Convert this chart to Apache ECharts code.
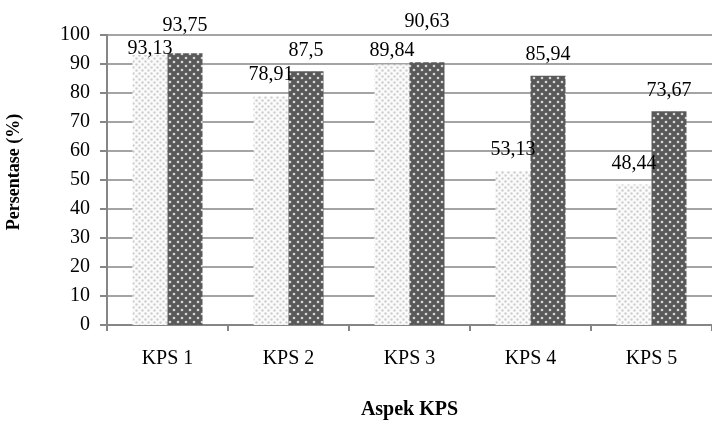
<!DOCTYPE html>
<html>
<head>
<meta charset="utf-8">
<script src="https://cdn.jsdelivr.net/npm/echarts@6/dist/echarts.min.js"></script>
<style>
html,body{margin:0;padding:0;background:#fff;}
#c{width:712px;height:425px;}
</style>
</head>
<body>
<div id="c"></div>
<script>
const categories = ['KPS 1', 'KPS 2', 'KPS 3', 'KPS 4', 'KPS 5'];
const seriesLight = [93.13, 78.91, 89.84, 53.13, 48.44];
const seriesDark = [93.75, 87.5, 90.63, 85.94, 73.67];
const yTicks = [0, 10, 20, 30, 40, 50, 60, 70, 80, 90, 100];

function makePattern(bg, dot, cell, r) {
  const cv = document.createElement('canvas');
  cv.width = cell; cv.height = cell;
  const ctx = cv.getContext('2d');
  ctx.fillStyle = bg; ctx.fillRect(0, 0, cell, cell);
  ctx.fillStyle = dot;
  const pts = [[cell * 0.25, cell * 0.25], [cell * 0.75, cell * 0.75]];
  pts.forEach(p => { ctx.beginPath(); ctx.arc(p[0], p[1], r, 0, Math.PI * 2); ctx.fill(); });
  return { image: cv, repeat: 'repeat' };
}

const lightPattern = makePattern('#fbfbfb', '#cfcfcf', 6, 1.2);
const darkPattern = makePattern('#595959', '#d6d6d6', 8, 1.3);

const font = 'Liberation Serif';
const fmt = v => String(v).replace('.', ',');

// label nudges for collisions (as in the original layout)
const lightNudge = { 0: 15, 2: 7 };
const darkNudge = { 0: -6, 2: -19 };

function buildData(vals, nudge) {
  return vals.map((v, i) => {
    const item = { value: v };
    if (nudge[i] !== undefined) item.label = { offset: [0, nudge[i]] };
    return item;
  });
}

const labelStyle = {
  show: true, position: 'top', distance: 11,
  fontFamily: font, fontSize: 20, color: '#000',
  formatter: p => fmt(p.value)
};

const chart = echarts.init(document.getElementById('c'), null, { renderer: 'canvas' });
chart.setOption({
  animation: false,
  backgroundColor: '#fff',
  grid: { left: 107, top: 35, width: 612.5, height: 300, containLabel: false },
  xAxis: {
    type: 'category',
    data: categories,
    axisLine: { show: true, lineStyle: { color: '#868686', width: 2 } },
    axisTick: { show: true, length: 6, alignWithLabel: false, lineStyle: { color: '#868686', width: 2 } },
    axisLabel: { fontFamily: font, fontSize: 20, color: '#000', margin: 24 },
    name: 'Aspek KPS',
    nameLocation: 'middle',
    nameGap: 75,
    nameTextStyle: { fontFamily: font, fontSize: 20, fontWeight: 'bold', color: '#000' }
  },
  yAxis: {
    type: 'value',
    min: yTicks[0], max: yTicks[yTicks.length - 1], interval: 10,
    axisLine: { show: true, lineStyle: { color: '#868686', width: 2 } },
    axisTick: { show: true, length: 7, lineStyle: { color: '#868686', width: 2 } },
    splitLine: { show: true, lineStyle: { color: '#868686', width: 1.5 } },
    axisLabel: { fontFamily: font, fontSize: 20, color: '#000', margin: 17 }
  },
  graphic: [{
    type: 'text',
    x: 14, y: 172,
    rotation: Math.PI / 2,
    style: { text: 'Persentase (%)', fontFamily: font, fontSize: 18, fontWeight: 'bold', fill: '#000', align: 'center', verticalAlign: 'middle' }
  }],
  series: [
    {
      name: 'A', type: 'bar', barWidth: 35, barGap: '0%',
      data: buildData(seriesLight, lightNudge),
      itemStyle: { color: lightPattern },
      label: labelStyle
    },
    {
      name: 'B', type: 'bar', barWidth: 35, barGap: '0%',
      data: buildData(seriesDark, darkNudge),
      itemStyle: { color: darkPattern },
      label: labelStyle
    }
  ]
});
</script>
</body>
</html>
